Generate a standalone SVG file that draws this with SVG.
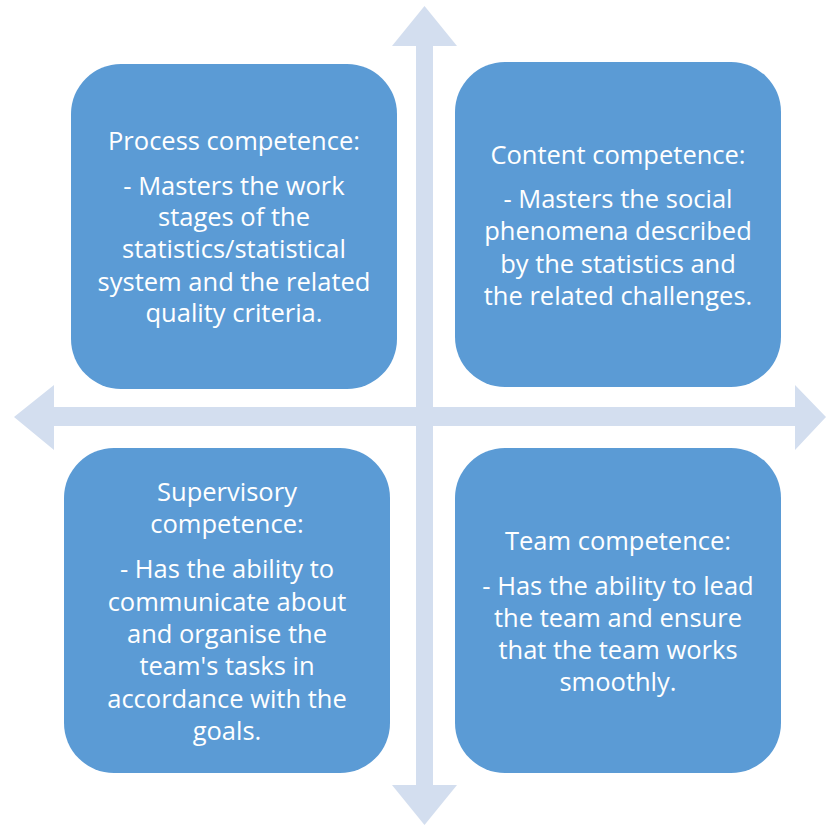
<svg xmlns="http://www.w3.org/2000/svg" width="826" height="825" viewBox="0 0 826 825">
<style>
.box{fill:#5B9BD5;}
.arr{fill:#D3DEEF;}
text{font-family:"Open Sans","Liberation Sans",sans-serif;font-size:25.5px;fill:#FFFFFF;text-anchor:middle;}
</style>
<rect width="826" height="825" fill="#FFFFFF"/>
<g id="connectors">
<polygon class="arr" points="424.5,6 457,46 433,46 433,785 457,785 424.5,825 392,785 416,785 416,46 392,46"/>
<polygon class="arr" points="14,417 54,385 54,407 795,407 795,385 826,417 795,450 795,426 54,426 54,450"/>
</g>
<g id="process">
<rect class="box" x="71" y="64" width="326" height="325" rx="50"/>
<text x="234" y="149.5">Process competence:</text>
<text x="234" y="194.5">- Masters the work</text>
<text x="234" y="225.5">stages of the</text>
<text x="234" y="257.5">statistics/statistical</text>
<text x="234" y="290.5">system and the related</text>
<text x="234" y="321.5">quality criteria.</text>
</g>
<g id="content">
<rect class="box" x="455" y="62" width="326" height="325" rx="50"/>
<text x="618" y="163.5">Content competence:</text>
<text x="618" y="207.5">- Masters the social</text>
<text x="618" y="239.5">phenomena described</text>
<text x="618" y="272.5">by the statistics and</text>
<text x="618" y="304.5">the related challenges.</text>
</g>
<g id="supervisory">
<rect class="box" x="64" y="448" width="326" height="325" rx="50"/>
<text x="227" y="500.5">Supervisory</text>
<text x="227" y="532.5">competence:</text>
<text x="227" y="577.5">- Has the ability to</text>
<text x="227" y="610.5">communicate about</text>
<text x="227" y="642.5">and organise the</text>
<text x="227" y="674.5">team's tasks in</text>
<text x="227" y="707.5">accordance with the</text>
<text x="227" y="739.5">goals.</text>
</g>
<g id="team">
<rect class="box" x="455" y="448" width="326" height="325" rx="50"/>
<text x="618" y="549.5">Team competence:</text>
<text x="618" y="594.5">- Has the ability to lead</text>
<text x="618" y="626.5">the team and ensure</text>
<text x="618" y="658.5">that the team works</text>
<text x="618" y="690.5">smoothly.</text>
</g>
</svg>
